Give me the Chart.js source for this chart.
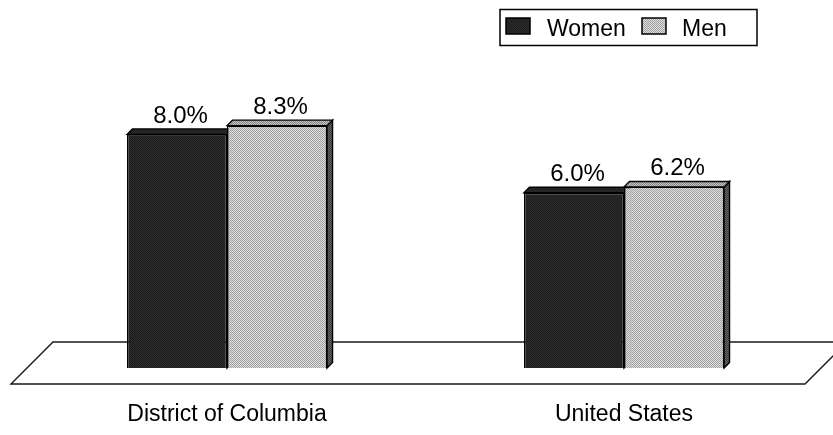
<!DOCTYPE html>
<html>
<head>
<meta charset="utf-8">
<title>Women and Men: District of Columbia vs United States</title>
<script src="https://cdn.jsdelivr.net/npm/chart.js@4/dist/chart.umd.min.js"></script>
<style>
  html, body { margin: 0; padding: 0; background: #ffffff; }
  #wrap { width: 833px; height: 435px; position: relative; }
</style>
</head>
<body>
<div id="wrap"><canvas id="chart" width="833" height="435"></canvas></div>
<script>
// Data
const categories = ['District of Columbia', 'United States'];
const seriesNames = ['Women', 'Men'];
const womenValues = [8.0, 6.0];
const menValues = [8.3, 6.2];
const valueLabelsWomen = ['8.0%', '6.0%'];
const valueLabelsMen = ['8.3%', '6.2%'];

const FONT = '"Liberation Sans", Arial, Helvetica, sans-serif';
const DEPTH = 5.5;

// Small tiled textures for the bar faces
function makeTile(size, shades) {
  const c = document.createElement('canvas');
  c.width = size; c.height = size;
  const g = c.getContext('2d');
  for (let y = 0; y < size; y++) {
    for (let x = 0; x < size; x++) {
      const v = shades[(y * size + x) % shades.length];
      g.fillStyle = 'rgb(' + v + ',' + v + ',' + v + ')';
      g.fillRect(x, y, 1, 1);
    }
  }
  return g.createPattern(c, 'repeat');
}
const darkFront = makeTile(4, [34, 46, 28, 40, 44, 30, 38, 26, 28, 40, 34, 48, 42, 26, 46, 32]);
const lightFront = makeTile(2, [160, 222, 222, 160]);
const lightTop = makeTile(2, [135, 195, 195, 135]);
const lightSide = makeTile(2, [55, 105, 105, 55]);

const faceStyles = [
  { front: darkFront, top: darkFront, side: darkFront },
  { front: lightFront, top: lightTop, side: lightSide }
];

// Floor plane drawn behind the bars
const floorPlugin = {
  id: 'floor',
  beforeDatasetsDraw(chart) {
    const { ctx, chartArea: a } = chart;
    ctx.save();
    ctx.strokeStyle = '#1a1a1a';
    ctx.lineWidth = 1.4;
    ctx.beginPath();
    ctx.moveTo(a.left - 17.5, a.bottom + 16);
    ctx.lineTo(a.left + 24.5, a.bottom - 26);
    ctx.lineTo(a.right + 24.5, a.bottom - 26);
    ctx.lineTo(a.right - 17.5, a.bottom + 16);
    ctx.closePath();
    ctx.stroke();
    ctx.restore();
  }
};

// Top and side faces that give each bar depth; drawn before the front
// faces so a neighbouring bar's front covers the hidden side.
const depthPlugin = {
  id: 'depth',
  beforeDatasetsDraw(chart) {
    const { ctx } = chart;
    ctx.save();
    ctx.strokeStyle = '#000';
    ctx.lineWidth = 1.4;
    ctx.lineJoin = 'miter';
    chart.data.datasets.forEach((ds, i) => {
      const style = faceStyles[i];
      chart.getDatasetMeta(i).data.forEach(bar => {
        const p = bar.getProps(['x', 'y', 'base', 'width'], true);
        const x0 = p.x - p.width / 2, x1 = p.x + p.width / 2;
        const top = p.y, bottom = p.base;
        // side
        ctx.beginPath();
        ctx.moveTo(x1, top);
        ctx.lineTo(x1 + DEPTH, top - DEPTH);
        ctx.lineTo(x1 + DEPTH, bottom - DEPTH);
        ctx.lineTo(x1, bottom);
        ctx.closePath();
        ctx.fillStyle = style.side;
        ctx.fill();
        ctx.stroke();
        // top
        ctx.beginPath();
        ctx.moveTo(x0, top);
        ctx.lineTo(x0 + DEPTH, top - DEPTH);
        ctx.lineTo(x1 + DEPTH, top - DEPTH);
        ctx.lineTo(x1, top);
        ctx.closePath();
        ctx.fillStyle = style.top;
        ctx.fill();
        ctx.stroke();
      });
    });
    ctx.restore();
  }
};

// Value labels above bars
const valueLabelPlugin = {
  id: 'valueLabels',
  afterDatasetsDraw(chart) {
    const { ctx } = chart;
    const labelSets = [valueLabelsWomen, valueLabelsMen];
    ctx.save();
    ctx.font = '24px ' + FONT;
    ctx.fillStyle = '#000';
    ctx.textAlign = 'center';
    ctx.textBaseline = 'alphabetic';
    chart.data.datasets.forEach((ds, i) => {
      const meta = chart.getDatasetMeta(i);
      meta.data.forEach((bar, j) => {
        ctx.fillText(labelSets[i][j], bar.x + 3.5, bar.y - 11.5);
      });
    });
    ctx.restore();
  }
};

// Boxed legend in the upper right
const boxLegendPlugin = {
  id: 'boxLegend',
  afterDraw(chart) {
    const { ctx } = chart;
    const ds = chart.data.datasets;
    ctx.save();
    ctx.strokeStyle = '#000';
    ctx.lineWidth = 1.5;
    ctx.fillStyle = '#fff';
    ctx.fillRect(500, 9.5, 257, 36);
    ctx.strokeRect(500, 9.5, 257, 36);
    const items = [
      { sx: 506, tx: 547 },
      { sx: 642, tx: 682 }
    ];
    ctx.font = '23px ' + FONT;
    ctx.textBaseline = 'middle';
    ctx.textAlign = 'left';
    items.forEach((it, i) => {
      ctx.fillStyle = ds[i].backgroundColor;
      ctx.fillRect(it.sx, 18, 24, 16);
      ctx.strokeStyle = '#000';
      ctx.lineWidth = 1.5;
      ctx.strokeRect(it.sx, 18, 24, 16);
      ctx.fillStyle = '#000';
      ctx.fillText(ds[i].label, it.tx, 30);
    });
    ctx.restore();
  }
};

new Chart(document.getElementById('chart'), {
  type: 'bar',
  data: {
    labels: categories,
    datasets: [
      {
        label: seriesNames[0],
        data: womenValues,
        backgroundColor: faceStyles[0].front,
        borderColor: '#000',
        borderWidth: 1.4
      },
      {
        label: seriesNames[1],
        data: menValues,
        backgroundColor: faceStyles[1].front,
        borderColor: '#000',
        borderWidth: 1.4
      }
    ]
  },
  options: {
    responsive: false,
    animation: false,
    devicePixelRatio: 1,
    layout: { padding: { left: 28.5, right: 10.5, top: 76, bottom: 5 } },
    datasets: { bar: { barPercentage: 1, categoryPercentage: 0.504 } },
    plugins: {
      legend: { display: false },
      tooltip: { enabled: false },
      title: { display: false }
    },
    scales: {
      x: {
        grid: { display: false, drawTicks: false },
        border: { display: false },
        ticks: {
          color: '#000',
          padding: 33,
          maxRotation: 0,
          font: { family: FONT, size: 23 }
        },
        afterFit(scale) { scale.height = 62; }
      },
      y: {
        display: false,
        min: 0,
        max: 10
      }
    }
  },
  plugins: [floorPlugin, depthPlugin, valueLabelPlugin, boxLegendPlugin]
});
</script>
</body>
</html>
